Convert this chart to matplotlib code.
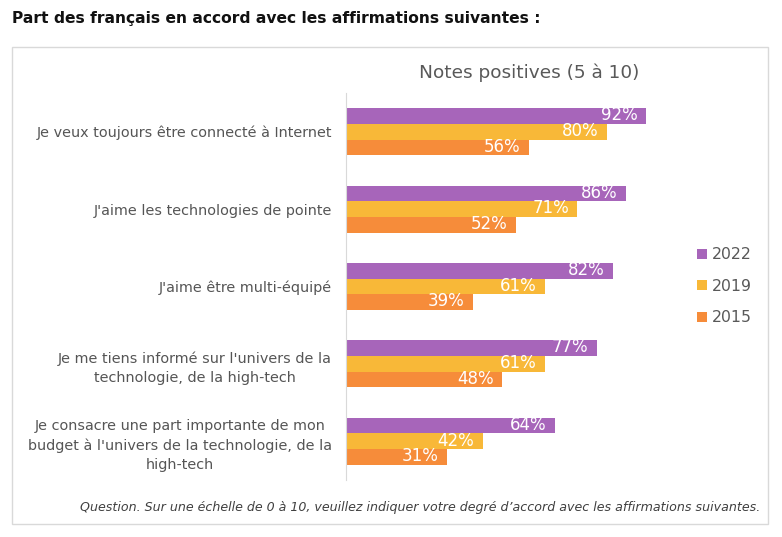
import numpy as np
import matplotlib
matplotlib.use("Agg")
import matplotlib.pyplot as plt
from matplotlib.patches import Rectangle

# données
categories = [
    "Je veux toujours être connecté à Internet",
    "J'aime les technologies de pointe",
    "J'aime être multi-équipé",
    "Je me tiens informé sur l'univers de la\ntechnologie, de la high-tech",
    "Je consacre une part importante de mon\nbudget à l'univers de la technologie, de la\nhigh-tech",
]
years = ["2022", "2019", "2015"]
v2022 = [92, 86, 82, 77, 64]
v2019 = [80, 71, 61, 61, 42]
v2015 = [56, 52, 39, 48, 31]
colors = ["#A765BA", "#F8B838", "#F68C3A"]

plt.rcParams['font.family'] = ['DejaVu Sans']

fig = plt.figure(figsize=(7.82, 5.37), dpi=100)
W, H = 782, 537

# cadre
fig.patches.append(Rectangle((12 / W, 1 - 524 / H), 756 / W, 477 / H,
                             transform=fig.transFigure, fill=False,
                             edgecolor="#D9D9D9", linewidth=1.0))

fig.text(12 / W, 1 - 19 / H, "Part des français en accord avec les affirmations suivantes :",
         fontsize=11.2, fontweight="bold", color="#111111", va="center", ha="left")

ax = fig.add_axes([346 / W, 1 - 480 / H, (672 - 346) / W, (480 - 93) / H])

series = [v2022, v2019, v2015]
n = len(categories)
y = np.arange(n)
h = 0.203
for i, (vals, yr, c) in enumerate(zip(series, years, colors)):
    pos = y + (i - 1) * h
    bars = ax.barh(pos, vals, height=h, color=c, label=yr)
    for b, v in zip(bars, vals):
        ax.text(b.get_width() - 2.6, b.get_y() + b.get_height() / 2 - 0.01, f"{v}%",
                ha="right", va="center", color="white", fontsize=12)

ax.set_xlim(0, 100)
ax.set_ylim(n - 0.5, -0.5)
ax.set_xticks([])
ax.set_yticks(y)
ax.set_yticklabels(categories, fontsize=10.4, color="#555555",
                   multialignment="center", linespacing=1.45)
ax.tick_params(axis="y", length=0, pad=10)
for s in ["top", "right", "bottom"]:
    ax.spines[s].set_visible(False)
ax.spines["left"].set_color("#D9D9D9")

fig.text(529 / W, 1 - 73 / H, "Notes positives (5 à 10)", fontsize=13.3,
         color="#595959", ha="center", va="center")

leg = fig.legend(loc="upper left", bbox_to_anchor=(683 / W, 1 - 233 / H),
                 frameon=False, fontsize=11.3, handlelength=0.6, handleheight=0.6,
                 handletextpad=0.35, labelspacing=1.05, labelcolor="#595959")

fig.text(760 / W, 1 - 508 / H,
         "Question. Sur une échelle de 0 à 10, veuillez indiquer votre degré d’accord avec les affirmations suivantes.",
         fontsize=9.1, style="italic", color="#404040", ha="right", va="center")

fig.savefig("out.png", dpi=100)
